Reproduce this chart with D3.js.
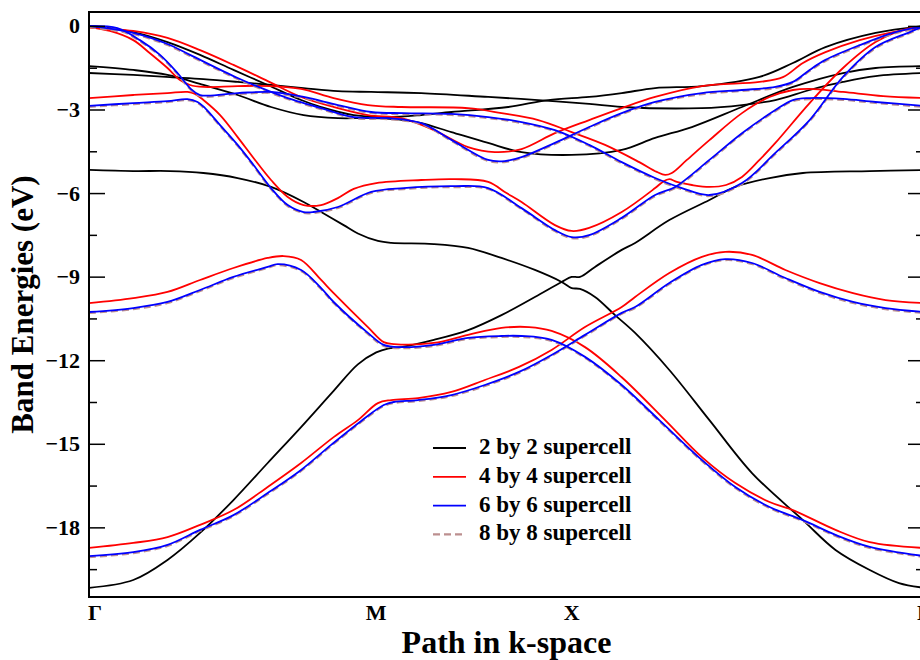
<!DOCTYPE html>
<html>
<head>
<meta charset="utf-8">
<script src="https://cdnjs.cloudflare.com/ajax/libs/d3/7.8.5/d3.min.js"></script>
<style>
  body { margin: 0; background: #fff; }
  svg { display: block; font-family: "Liberation Serif", "Times New Roman", serif; font-weight: bold; }
</style>
</head>
<body>
<svg id="chart" width="920" height="660"></svg>
<script>
// High-symmetry points, position as fraction of the k-path
const kLabels = ["Γ", "M", "X", "Γ"];
const kPos = [0, 0.344, 0.578, 1];

const yTicks = [0, -3, -6, -9, -12, -15, -18];
const yMinor = [-1.5, -4.5, -7.5, -10.5, -13.5, -16.5, -19.5];

const seriesNames = ["2 by 2 supercell", "4 by 4 supercell", "6 by 6 supercell", "8 by 8 supercell"];

// ---- 2 by 2 supercell bands [k, E(eV)] ----
const black1 = [[0,-20.17],[.053,-19.89],[.094,-19.17],[.133,-18.2],[.173,-17.02],[.214,-15.69],[.254,-14.40],[.293,-13.10],[.322,-12.15],[.344,-11.72],[.358,-11.58],[.374,-11.53],[.413,-11.27],[.454,-10.92],[.494,-10.38],[.534,-9.73],[.566,-9.19],[.578,-9.01],[.588,-9.01],[.606,-8.65],[.638,-8.04],[.654,-7.79],[.695,-6.97],[.743,-6.25],[.774,-5.78],[.815,-5.46],[.855,-5.28],[.935,-5.21],[1,-5.17]];
const black2 = [[0,-5.17],[.053,-5.21],[.097,-5.21],[.137,-5.28],[.178,-5.46],[.218,-5.78],[.257,-6.32],[.278,-6.68],[.305,-7.15],[.322,-7.45],[.346,-7.72],[.362,-7.79],[.413,-7.83],[.454,-7.97],[.494,-8.33],[.534,-8.76],[.566,-9.19],[.578,-9.41],[.588,-9.44],[.606,-9.73],[.630,-10.38],[.654,-11.02],[.695,-12.35],[.743,-14.15],[.794,-16.05],[.855,-17.74],[.894,-18.81],[.935,-19.53],[.97,-20.0],[1,-20.17]];
const black3 = [[0,0],[.053,-0.22],[.094,-0.58],[.133,-1.04],[.173,-1.58],[.214,-2.12],[.254,-2.66],[.278,-2.91],[.317,-3.20],[.358,-3.27],[.398,-3.20],[.434,-3.09],[.502,-2.91],[.550,-2.66],[.599,-2.55],[.638,-2.41],[.678,-2.23],[.734,-2.16],[.803,-1.83],[.843,-1.33],[.882,-0.76],[.942,-0.25],[1,0]];
const black4 = [[0,-1.44],[.053,-1.58],[.094,-1.76],[.137,-2.12],[.178,-2.48],[.218,-2.91],[.257,-3.20],[.298,-3.31],[.338,-3.31],[.377,-3.38],[.398,-3.49],[.434,-3.81],[.478,-4.20],[.518,-4.53],[.578,-4.63],[.638,-4.45],[.678,-4.02],[.722,-3.63],[.782,-2.91],[.843,-2.19],[.903,-1.69],[.942,-1.51],[1,-1.44]];
const black5 = [[0,-1.69],[.053,-1.76],[.097,-1.84],[.137,-1.91],[.178,-2.01],[.218,-2.12],[.257,-2.23],[.298,-2.34],[.338,-2.37],[.398,-2.41],[.478,-2.55],[.538,-2.66],[.599,-2.80],[.638,-2.91],[.734,-2.95],[.782,-2.84],[.822,-2.66],[.863,-2.30],[.903,-2.01],[.942,-1.80],[1,-1.69]];

// ---- 4 by 4 supercell bands ----
const red1 = [[0,-0.05],[.053,-0.18],[.094,-0.43],[.133,-0.87],[.173,-1.40],[.214,-1.98],[.254,-2.55],[.293,-2.91],[.334,-3.20],[.374,-3.31],[.413,-3.74],[.454,-4.35],[.486,-4.53],[.518,-4.42],[.558,-3.85],[.599,-3.38],[.638,-2.95],[.678,-2.55],[.734,-2.16],[.803,-2.01],[.831,-1.84],[.855,-1.33],[.882,-0.94],[.923,-0.51],[.963,-0.22],[1,-0.05]];
const red2 = [[0,-0.05],[.025,-0.18],[.053,-0.51],[.073,-0.98],[.094,-1.51],[.109,-1.94],[.121,-2.12],[.137,-2.19],[.178,-2.16],[.218,-2.16],[.254,-2.26],[.293,-2.59],[.334,-2.84],[.374,-2.91],[.454,-2.95],[.494,-3.13],[.538,-3.38],[.578,-3.81],[.618,-4.27],[.659,-4.89],[.680,-5.24],[.690,-5.35],[.698,-5.28],[.716,-4.81],[.743,-4.10],[.782,-3.13],[.815,-2.55],[.843,-2.30],[.863,-2.26],[.903,-2.37],[.951,-2.52],[1,-2.59]];
const red3 = [[0,-2.59],[.053,-2.48],[.094,-2.41],[.118,-2.37],[.127,-2.44],[.137,-2.66],[.157,-3.20],[.178,-3.99],[.197,-4.74],[.218,-5.53],[.238,-6.14],[.257,-6.43],[.278,-6.43],[.298,-6.18],[.317,-5.85],[.344,-5.64],[.398,-5.53],[.438,-5.50],[.478,-5.60],[.500,-6.00],[.518,-6.32],[.558,-7.15],[.578,-7.36],[.599,-7.25],[.638,-6.68],[.678,-5.82],[.687,-5.60],[.695,-5.50],[.704,-5.60],[.722,-5.71],[.743,-5.78],[.763,-5.71],[.782,-5.42],[.803,-4.81],[.822,-4.20],[.863,-2.77],[.903,-1.51],[.942,-0.58],[.983,-0.08],[1,-0.05]];
const red4 = [[0,-18.74],[.053,-18.56],[.094,-18.35],[.133,-17.91],[.173,-17.38],[.214,-16.55],[.254,-15.69],[.293,-14.76],[.322,-14.15],[.346,-13.54],[.362,-13.43],[.394,-13.36],[.434,-13.14],[.474,-12.71],[.515,-12.24],[.554,-11.63],[.594,-10.81],[.638,-10.09],[.654,-9.73],[.695,-8.87],[.734,-8.29],[.762,-8.11],[.794,-8.22],[.834,-8.76],[.875,-9.23],[.915,-9.59],[.954,-9.84],[1,-9.95]];
const red5 = [[0,-9.95],[.053,-9.77],[.094,-9.55],[.133,-9.12],[.173,-8.69],[.214,-8.33],[.233,-8.26],[.254,-8.40],[.278,-9.12],[.293,-9.59],[.334,-10.81],[.353,-11.35],[.365,-11.42],[.413,-11.38],[.454,-11.09],[.494,-10.84],[.527,-10.81],[.554,-10.95],[.594,-11.53],[.638,-12.61],[.690,-14.15],[.734,-15.48],[.774,-16.41],[.815,-17.09],[.843,-17.38],[.894,-18.09],[.935,-18.53],[1,-18.74]];

// ---- 6 by 6 supercell bands ----
const blue1 = [[0,0],[.053,-0.25],[.094,-0.65],[.121,-1.04],[.178,-1.87],[.218,-2.37],[.238,-2.59],[.278,-2.95],[.317,-3.27],[.358,-3.31],[.398,-3.49],[.434,-4.09],[.478,-4.81],[.498,-4.85],[.518,-4.71],[.558,-4.20],[.599,-3.63],[.638,-3.13],[.678,-2.73],[.734,-2.41],[.782,-2.30],[.822,-2.19],[.843,-2.01],[.863,-1.58],[.882,-1.22],[.923,-0.69],[.963,-0.25],[1,0]];
const blue2 = [[0,0],[.034,-0.08],[.061,-0.51],[.085,-1.04],[.106,-1.69],[.121,-2.23],[.133,-2.48],[.178,-2.41],[.218,-2.37],[.257,-2.55],[.298,-2.84],[.338,-3.09],[.377,-3.13],[.434,-3.16],[.478,-3.27],[.518,-3.45],[.558,-3.74],[.599,-4.27],[.638,-4.89],[.678,-5.46],[.710,-5.82],[.743,-6.07],[.782,-5.64],[.822,-4.56],[.863,-3.38],[.903,-1.83],[.942,-0.76],[.983,-0.22],[1,0]];
const blue3 = [[0,-2.87],[.053,-2.77],[.094,-2.70],[.118,-2.63],[.130,-2.73],[.139,-2.95],[.157,-3.56],[.178,-4.27],[.197,-4.99],[.218,-5.82],[.238,-6.43],[.257,-6.68],[.269,-6.68],[.298,-6.50],[.338,-5.96],[.377,-5.82],[.438,-5.75],[.478,-5.82],[.518,-6.54],[.558,-7.33],[.578,-7.58],[.599,-7.51],[.638,-6.89],[.678,-6.07],[.702,-5.78],[.743,-4.81],[.782,-3.85],[.822,-3.02],[.843,-2.66],[.863,-2.59],[.903,-2.62],[.942,-2.73],[1,-2.87]];
const blue4 = [[0,-19.03],[.053,-18.89],[.094,-18.63],[.133,-18.09],[.173,-17.56],[.214,-16.77],[.254,-15.94],[.290,-15.04],[.326,-14.18],[.353,-13.61],[.365,-13.50],[.394,-13.43],[.434,-13.25],[.474,-12.89],[.515,-12.42],[.554,-11.81],[.594,-11.09],[.638,-10.30],[.654,-10.09],[.695,-9.23],[.734,-8.58],[.762,-8.37],[.794,-8.51],[.834,-9.05],[.875,-9.55],[.915,-9.91],[.954,-10.13],[1,-10.27]];
const blue5 = [[0,-10.27],[.053,-10.13],[.094,-9.91],[.133,-9.48],[.173,-9.01],[.214,-8.65],[.226,-8.55],[.254,-8.76],[.278,-9.41],[.293,-9.91],[.334,-11.02],[.353,-11.45],[.374,-11.53],[.413,-11.45],[.454,-11.20],[.494,-11.13],[.518,-11.13],[.554,-11.27],[.594,-11.88],[.638,-12.89],[.683,-14.15],[.734,-15.58],[.774,-16.55],[.815,-17.27],[.855,-17.74],[.894,-18.27],[.935,-18.70],[1,-19.03]];

// ---- 8 by 8 supercell: coincides with 6 by 6 within the drawing ----
const brown1 = blue1, brown2 = blue2, brown3 = blue3, brown4 = blue4, brown5 = blue5;

const series = [
  { name: seriesNames[0], color: "#000000", dash: null, bands: [black1, black2, black3, black4, black5] },
  { name: seriesNames[1], color: "#ff0000", dash: null, bands: [red1, red2, red3, red4, red5] },
  { name: seriesNames[2], color: "#0000ff", dash: null, bands: [blue1, blue2, blue3, blue4, blue5] },
  { name: seriesNames[3], color: "#bc8f8f", dash: "7,4", bands: [brown1, brown2, brown3, brown4, brown5] }
];

const margin = { left: 89, top: 12, right: 924, bottom: 597 };
const svg = d3.select("#chart");

const x = d3.scaleLinear().domain([0, 1]).range([margin.left, margin.right]);
const y = d3.scaleLinear().domain([-20.5, 0.5]).range([margin.bottom, margin.top]);

svg.append("defs").append("clipPath").attr("id", "plot-clip")
  .append("rect")
  .attr("x", margin.left).attr("y", margin.top)
  .attr("width", margin.right - margin.left).attr("height", margin.bottom - margin.top);

const line = d3.line()
  .x((d) => x(d[0]))
  .y((d) => y(d[1]))
  .curve(d3.curveCatmullRom.alpha(0.5));

const plot = svg.append("g").attr("clip-path", "url(#plot-clip)");

// draw order: 2x2, 4x4, then 8x8 dashed under the 6x6 lines
const drawOrder = [series[0], series[1], series[3], series[2]];
drawOrder.forEach((s) => {
  const g = plot.append("g");
  if (s.dash) g.attr("transform", "translate(0,1)");
  s.bands.forEach((b) => {
    g.append("path")
      .datum(b)
      .attr("fill", "none")
      .attr("stroke", s.color)
      .attr("stroke-width", s.dash ? 2.2 : 1.8)
      .attr("stroke-dasharray", s.dash)
      .attr("d", line);
  });
});

// y axes: major and minor ticks pointing inward
const leftAxis = svg.append("g").attr("transform", `translate(${margin.left},0)`)
  .call(d3.axisLeft(y).tickValues(yTicks).tickSize(-16).tickPadding(9).tickFormat(d3.format("d")));
leftAxis.select(".domain").remove();
leftAxis.selectAll("line").attr("stroke", "#000").attr("stroke-width", 1.5);
leftAxis.selectAll("text").attr("font-size", 22).attr("fill", "#000")
  .attr("font-family", "Liberation Serif, serif").attr("font-weight", "bold");

svg.append("g").attr("transform", `translate(${margin.left},0)`)
  .call(d3.axisLeft(y).tickValues(yMinor).tickSize(-8).tickFormat(""))
  .call((g) => g.select(".domain").remove())
  .selectAll("line").attr("stroke-width", 1.5);

svg.append("g").attr("transform", `translate(${margin.right},0)`)
  .call(d3.axisRight(y).tickValues(yTicks).tickSize(-16).tickFormat(""))
  .call((g) => g.select(".domain").remove())
  .selectAll("line").attr("stroke-width", 1.5);

svg.append("g").attr("transform", `translate(${margin.right},0)`)
  .call(d3.axisRight(y).tickValues(yMinor).tickSize(-8).tickFormat(""))
  .call((g) => g.select(".domain").remove())
  .selectAll("line").attr("stroke-width", 1.5);

// frame
svg.append("rect")
  .attr("x", margin.left).attr("y", margin.top)
  .attr("width", margin.right - margin.left).attr("height", margin.bottom - margin.top)
  .attr("fill", "none").attr("stroke", "#000").attr("stroke-width", 2);

// k-point labels
svg.append("g").selectAll("text")
  .data(kLabels)
  .join("text")
  .attr("x", (d, i) => x(kPos[i]) + (i === 0 ? 6 : 0))
  .attr("y", 620)
  .attr("text-anchor", "middle")
  .attr("font-size", 22)
  .text((d) => d);

// axis titles
svg.append("text")
  .attr("x", (margin.left + margin.right) / 2)
  .attr("y", 653)
  .attr("text-anchor", "middle")
  .attr("font-size", 32)
  .text("Path in k-space");

svg.append("text")
  .attr("transform", `translate(33,${(margin.top + margin.bottom) / 2}) rotate(-90)`)
  .attr("text-anchor", "middle")
  .attr("font-size", 31)
  .text("Band Energies (eV)");

// legend
const legend = svg.append("g").attr("transform", "translate(433,448)");
series.forEach((s, i) => {
  const row = legend.append("g").attr("transform", `translate(0,${i * 28.8})`);
  row.append("line")
    .attr("x1", 0).attr("x2", 33)
    .attr("stroke", s.color)
    .attr("stroke-width", s.dash ? 2.2 : 1.8)
    .attr("stroke-dasharray", s.dash);
  row.append("text")
    .attr("x", 46).attr("y", 6)
    .attr("font-size", 23)
    .text(s.name);
});
</script>
</body>
</html>
